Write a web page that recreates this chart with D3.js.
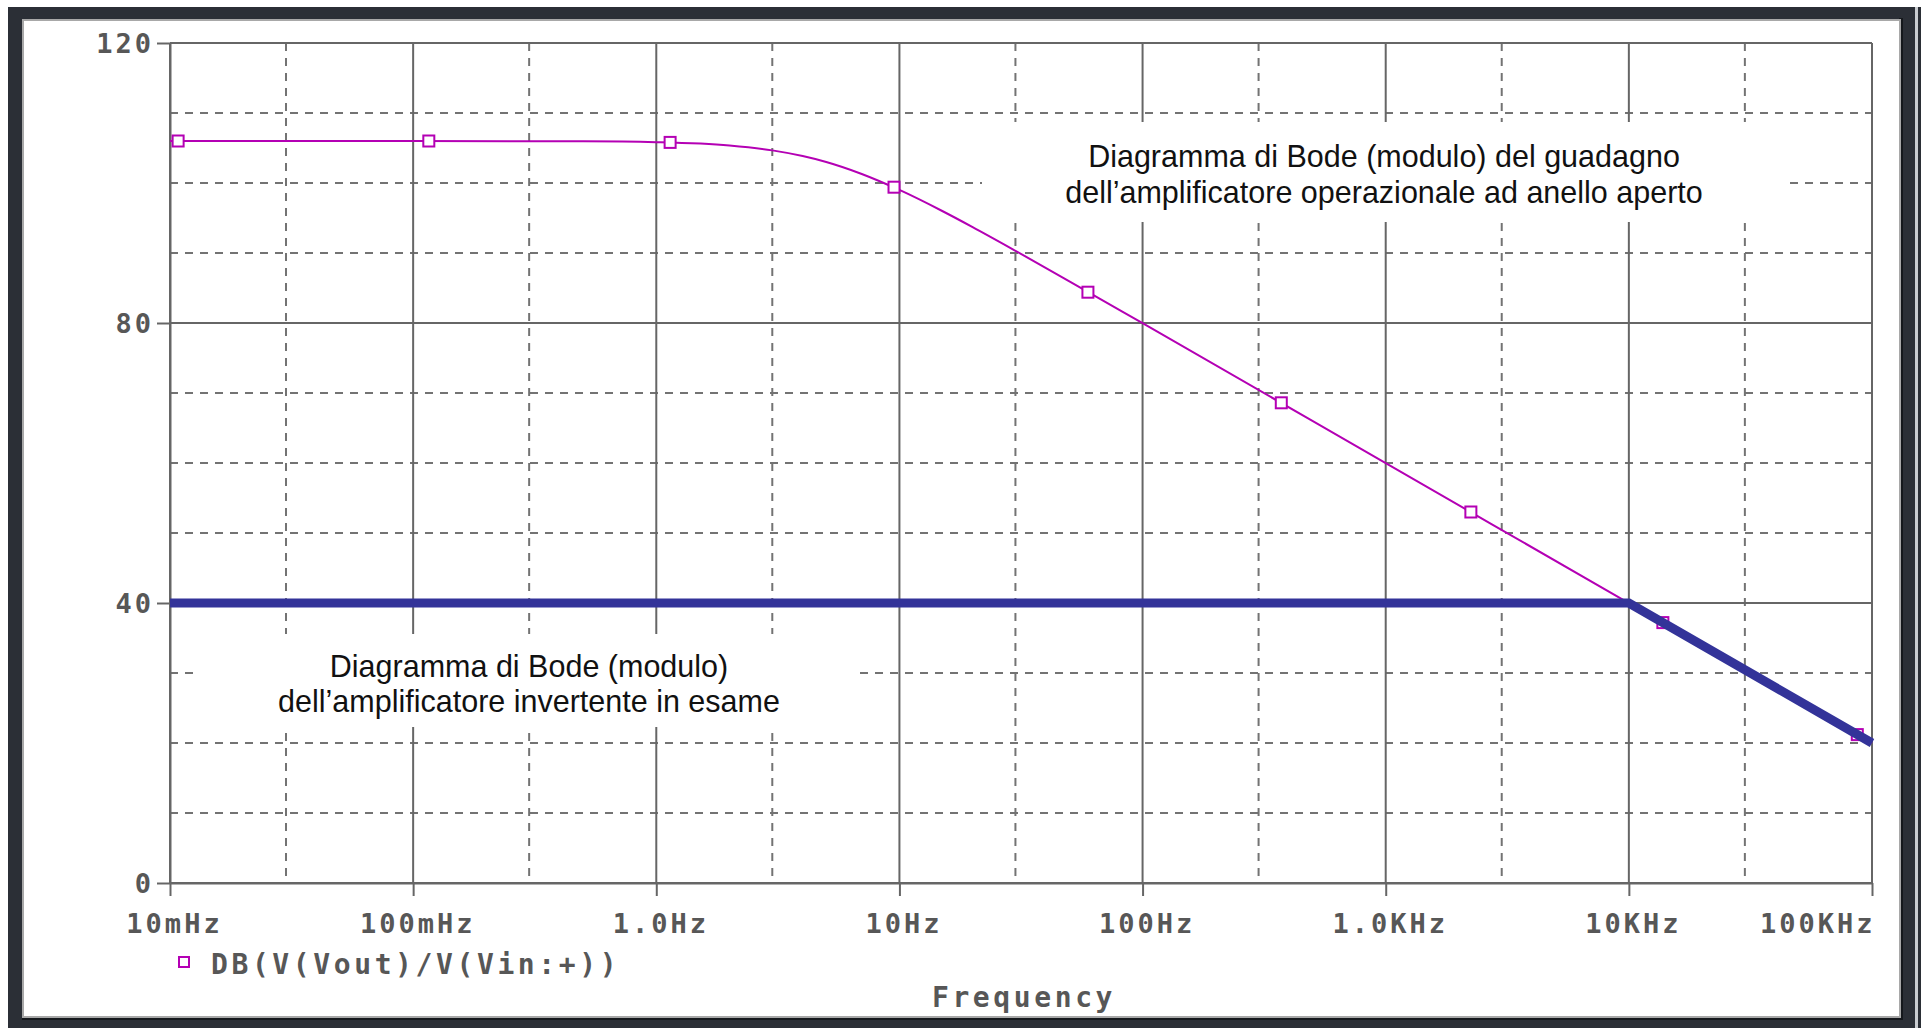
<!DOCTYPE html>
<html>
<head>
	<meta charset="utf-8"/>
	<style type="text/css">
		html, body { margin: 0; padding: 0; background: #ffffff; }
		svg { display: block; }
		.tick-text { font-family: "DejaVu Sans Mono", "Liberation Mono", monospace; font-weight: bold; font-size: 27px; fill: #575757; letter-spacing: 3px; }
		.legend-text { font-family: "DejaVu Sans Mono", "Liberation Mono", monospace; font-weight: bold; font-size: 28px; fill: #575757; letter-spacing: 3.6px; }
		.note { font-family: "Liberation Sans", Arial, sans-serif; font-size: 30.5px; fill: #111111; }
	</style>
</head>
<body>
	<svg id="chart" width="1921" height="1028"></svg>

	<script src="https://cdnjs.cloudflare.com/ajax/libs/d3/7.8.5/d3.min.js"></script>
	<script>
		// --- dati ---
		// guadagno ad anello aperto (traccia magenta)
		let openHz = [0.01, 0.1, 0.5, 1, 2, 3, 4, 5, 7, 10, 15, 20, 30, 50, 100, 1000, 10000, 100000];
		let openDb = [106, 106, 105.96, 105.83, 105.36, 104.66, 103.85, 103, 101.29, 99.01, 96, 93.7, 90.32, 85.96, 79.97, 59.98, 39.98, 20];

		// marcatori quadrati sulla traccia
		let markerHz = [0.0108, 0.116, 1.14, 9.5, 59.6, 372, 2240, 13800, 87000];
		let markerDb = [106, 106, 105.8, 99.4, 84.4, 68.6, 53.0, 37.2, 21.2];

		// amplificatore invertente (spezzata blu)
		let closedHz = [0.01, 10000, 100000];
		let closedDb = [40, 40, 20];

		let yTicks = [0, 40, 80, 120];
		let yDashed = [10, 20, 30, 50, 60, 70, 90, 100, 110];
		let xTicks = [0.01, 0.1, 1, 10, 100, 1000, 10000, 100000];
		let xTickLabels = ["10mHz", "100mHz", "1.0Hz", "10Hz", "100Hz", "1.0KHz", "10KHz", "100KHz"];
		let xDashed = [0.03, 0.3, 3, 30, 300, 3000, 30000];

		let legendLabel = "DB(V(Vout)/V(Vin:+))";
		let xTitle = "Frequency";
		let noteTop = ["Diagramma di Bode (modulo) del guadagno", "dell\u2019amplificatore operazionale ad anello aperto"];
		let noteBottom = ["Diagramma di Bode (modulo)", "dell\u2019amplificatore invertente in esame"];

		let svg = d3.select("#chart");
		let plotLeft = 170, plotRight = 1872, plotTop = 43, plotBottom = 883;

		// cornice della finestra
		svg.append("rect").attr("x", 0).attr("y", 0).attr("width", 1921).attr("height", 1028).attr("fill", "#ffffff");
		svg.append("rect").attr("x", 8).attr("y", 7).attr("width", 1913).attr("height", 1021).attr("fill", "#2b2f36");
		svg.append("rect").attr("x", 1915).attr("y", 7).attr("width", 3).attr("height", 1021).attr("fill", "#c9ccd0");
		svg.append("rect").attr("x", 1899).attr("y", 18).attr("width", 4).attr("height", 1002).attr("fill", "#15181c");
		svg.append("rect").attr("x", 22).attr("y", 1017).attr("width", 1881).attr("height", 3).attr("fill", "#15181c");
		svg.append("rect").attr("x", 23).attr("y", 20).attr("width", 1877).attr("height", 997)
		   .attr("fill", "#ffffff").attr("stroke", "#a8a8a8").attr("stroke-width", 2);

		// scale
		let x = d3.scaleLog().domain([0.01, 100000]).range([plotLeft, plotRight]);
		let y = d3.scaleLinear().domain([0, 120]).range([plotBottom, plotTop]);

		// griglia
		let grid = svg.append("g");
		grid.selectAll(".hd").data(yDashed).enter().append("line")
		   .attr("x1", plotLeft).attr("x2", plotRight)
		   .attr("y1", d => y(d)).attr("y2", d => y(d))
		   .attr("stroke", "#737373").attr("stroke-width", 2).attr("stroke-dasharray", "8,7");
		grid.selectAll(".vd").data(xDashed).enter().append("line")
		   .attr("x1", d => x(d)).attr("x2", d => x(d))
		   .attr("y1", plotTop).attr("y2", plotBottom)
		   .attr("stroke", "#737373").attr("stroke-width", 2).attr("stroke-dasharray", "8,7");
		grid.selectAll(".hs").data(yTicks).enter().append("line")
		   .attr("x1", plotLeft).attr("x2", plotRight)
		   .attr("y1", d => y(d)).attr("y2", d => y(d))
		   .attr("stroke", "#666666").attr("stroke-width", 2);
		grid.selectAll(".vs").data(xTicks).enter().append("line")
		   .attr("x1", d => x(d)).attr("x2", d => x(d))
		   .attr("y1", plotTop).attr("y2", plotBottom)
		   .attr("stroke", "#666666").attr("stroke-width", 2);

		// assi
		let yAxis = svg.append("g")
		   .attr("transform", `translate(${plotLeft},0)`)
		   .call(d3.axisLeft(y).tickValues(yTicks).tickSize(13).tickSizeOuter(0).tickFormat(d => String(d)));
		let xAxis = svg.append("g")
		   .attr("transform", `translate(0,${plotBottom})`)
		   .call(d3.axisBottom(x).tickValues(xTicks).tickSize(13).tickSizeOuter(0).tickFormat((d, i) => xTickLabels[i]));

		[yAxis, xAxis].forEach(function(ax) {
			ax.attr("font-size", null).attr("font-family", null);
			ax.select(".domain").attr("stroke", "#666666").attr("stroke-width", 2);
			ax.selectAll(".tick line").attr("stroke", "#666666").attr("stroke-width", 2);
			ax.selectAll(".tick text").attr("class", "tick-text").attr("fill", null);
		});
		yAxis.selectAll(".tick text").attr("x", -16).attr("dy", "0.36em");
		xAxis.selectAll(".tick text").attr("y", 50).attr("dy", 0)
		   .attr("text-anchor", (d, i) => i === xTicks.length - 1 ? "end" : "middle")
		   .attr("dx", (d, i) => i === xTicks.length - 1 ? 3 : 4);

		// riquadri bianchi dietro le note
		svg.append("rect").attr("x", 982).attr("y", 122).attr("width", 804).attr("height", 100).attr("fill", "#ffffff");
		svg.append("rect").attr("x", 195).attr("y", 634).attr("width", 664).attr("height", 93).attr("fill", "#ffffff");

		// note
		svg.append("g").selectAll("text").data(noteTop).enter().append("text")
		   .attr("class", "note").attr("x", 1384).attr("y", (d, i) => 167 + i * 36)
		   .attr("text-anchor", "middle").text(d => d);
		svg.append("g").selectAll("text").data(noteBottom).enter().append("text")
		   .attr("class", "note").attr("x", 529).attr("y", (d, i) => 677 + i * 35)
		   .attr("text-anchor", "middle").text(d => d);

		// traccia ad anello aperto
		let openData = openHz.map((f, i) => ({f: f, db: openDb[i]}));
		let line = d3.line().x(d => x(d.f)).y(d => y(d.db)).curve(d3.curveMonotoneX);
		svg.append("path").datum(openData)
		   .attr("d", line).attr("fill", "none")
		   .attr("stroke", "#b400b4").attr("stroke-width", 2);

		let markerData = markerHz.map((f, i) => ({f: f, db: markerDb[i]}));
		svg.append("g").selectAll("rect").data(markerData).enter().append("rect")
		   .attr("x", d => x(d.f) - 5.5).attr("y", d => y(d.db) - 5.5)
		   .attr("width", 11).attr("height", 11)
		   .attr("fill", "#ffffff").attr("stroke", "#b400b4").attr("stroke-width", 2);

		// spezzata dell'invertente
		let closedData = closedHz.map((f, i) => ({f: f, db: closedDb[i]}));
		svg.append("path").datum(closedData)
		   .attr("d", d3.line().x(d => x(d.f)).y(d => y(d.db)))
		   .attr("fill", "none").attr("stroke", "#333399").attr("stroke-width", 9);

		// legenda e titolo asse
		svg.append("rect").attr("x", 179).attr("y", 957).attr("width", 10).attr("height", 10)
		   .attr("fill", "#ffffff").attr("stroke", "#b400b4").attr("stroke-width", 2);
		svg.append("text").attr("class", "legend-text").attr("x", 211).attr("y", 974).text(legendLabel);
		svg.append("text").attr("class", "legend-text").attr("x", 1024).attr("y", 1007)
		   .attr("text-anchor", "middle").text(xTitle);
	</script>
</body>
</html>
